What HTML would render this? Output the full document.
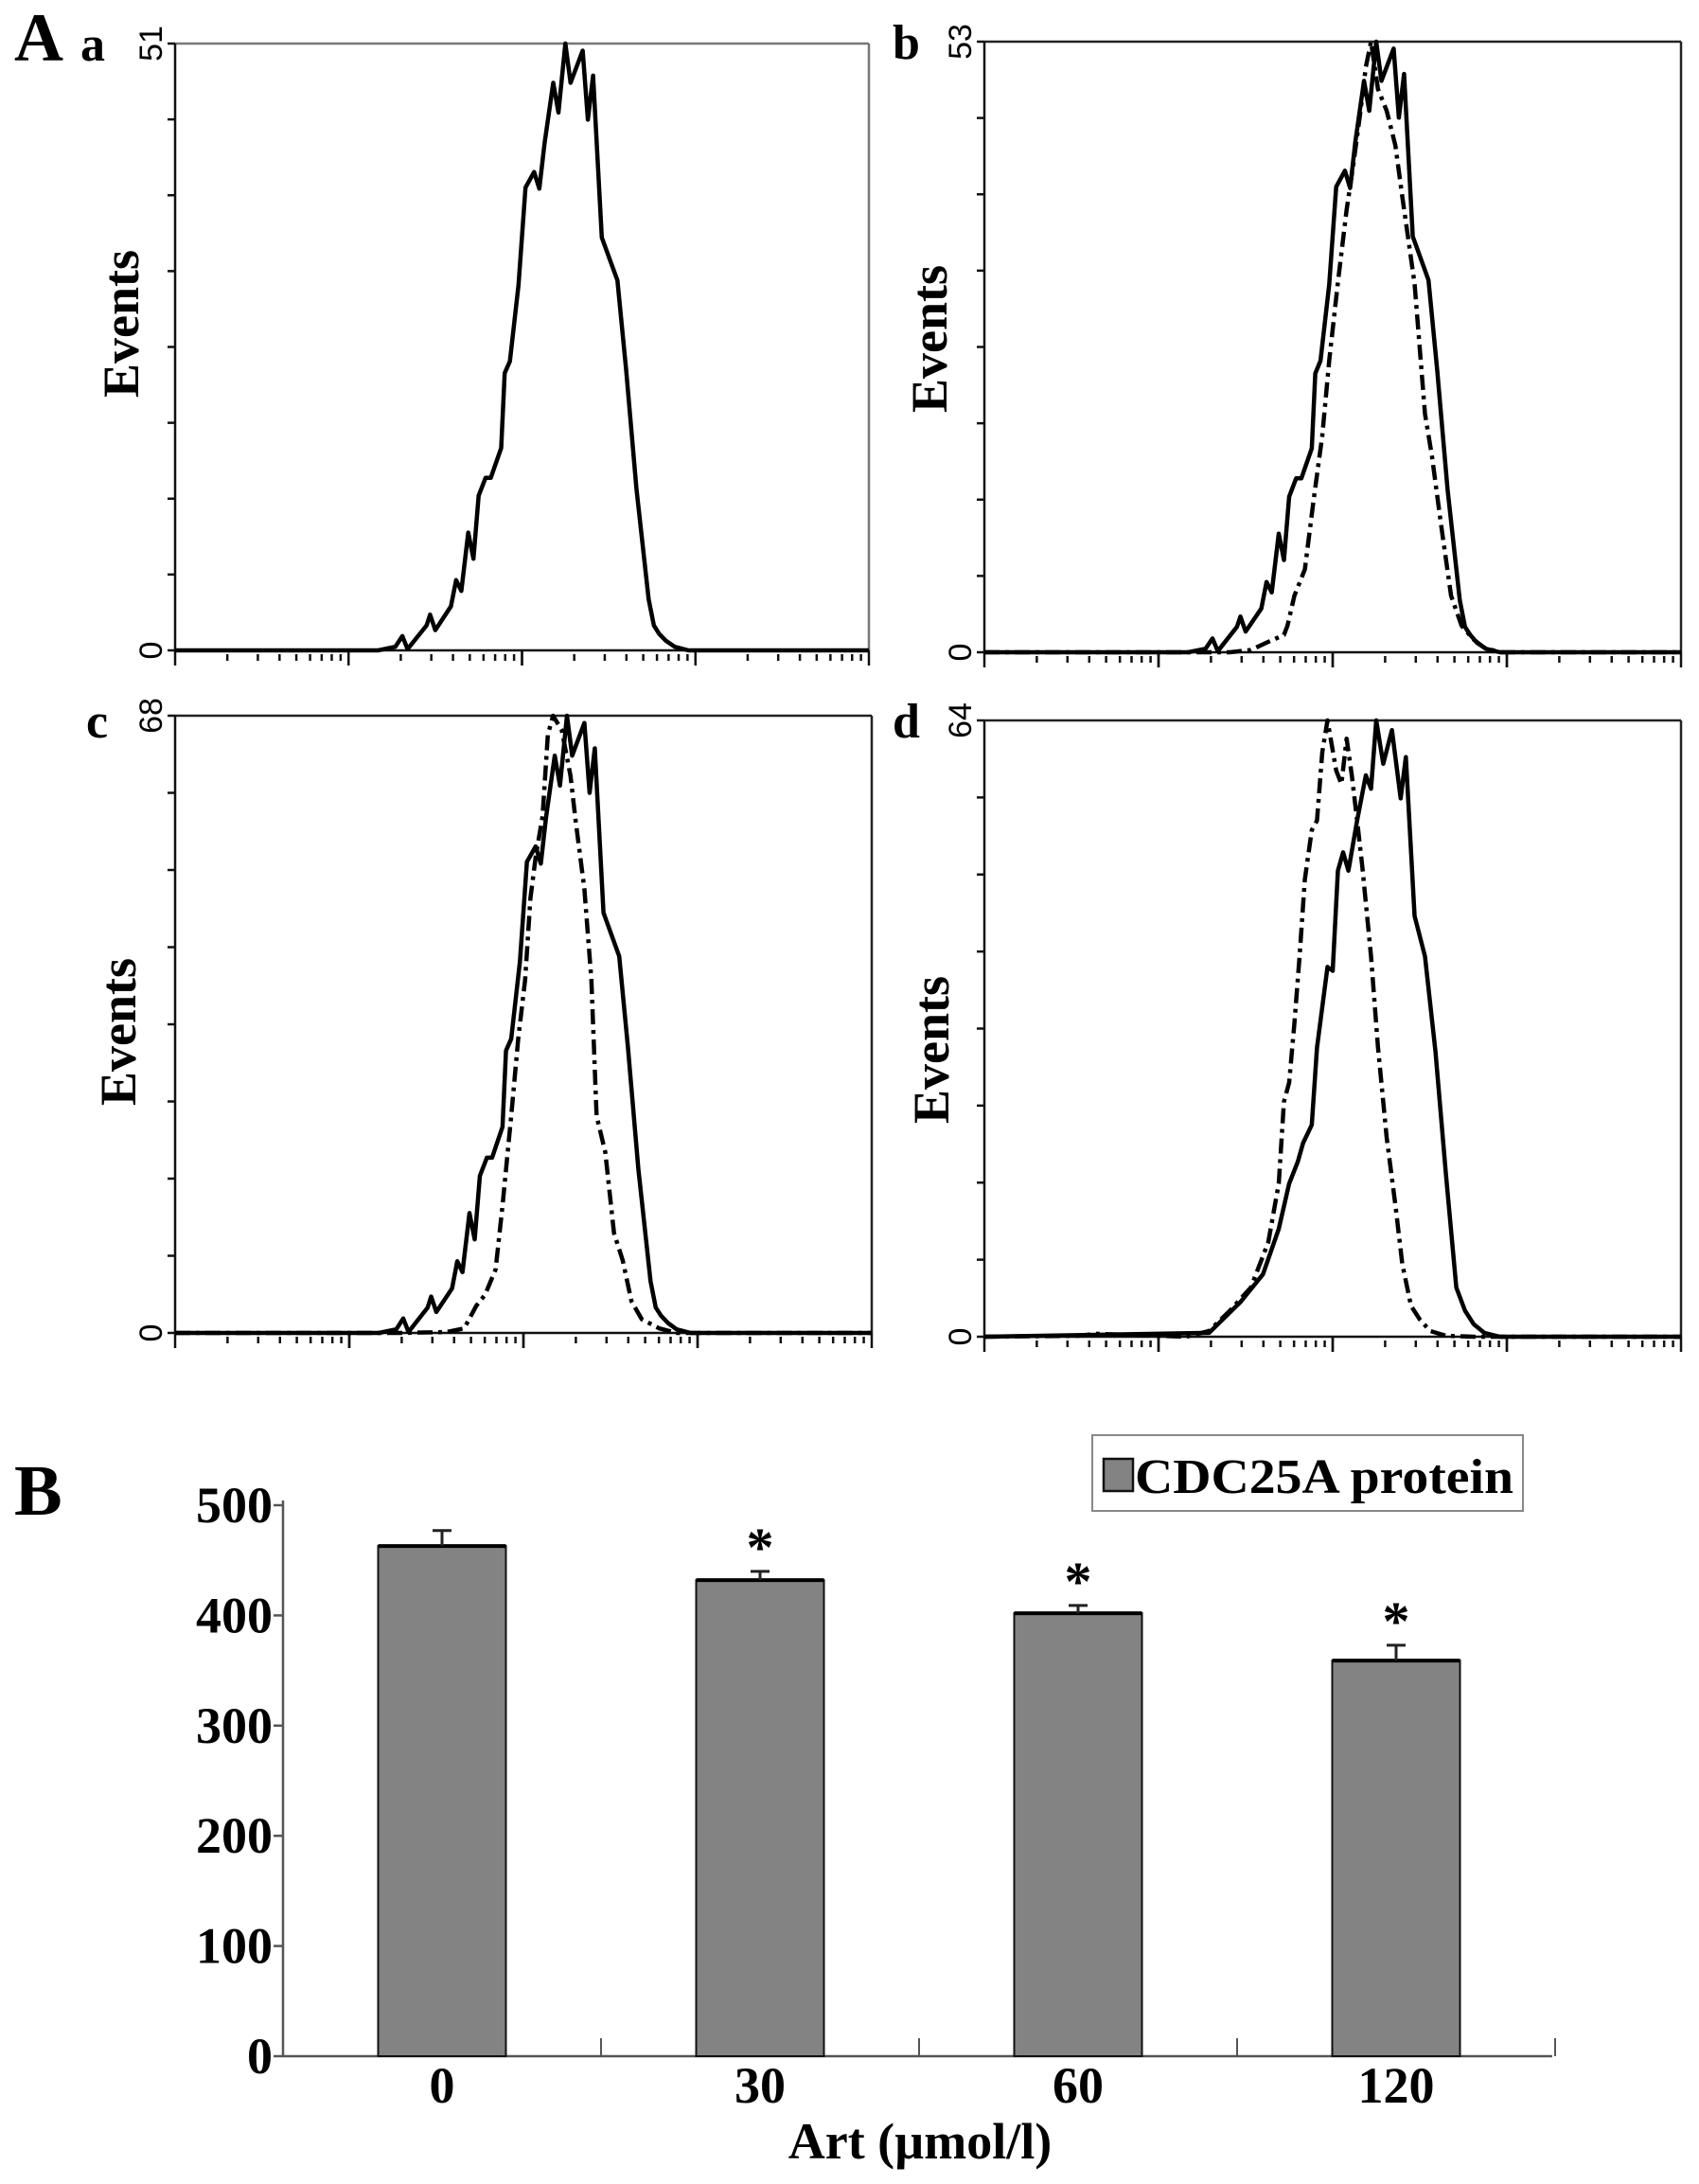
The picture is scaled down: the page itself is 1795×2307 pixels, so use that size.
<!DOCTYPE html>
<html><head><meta charset="utf-8">
<style>
html,body{margin:0;padding:0;background:#fff;}
svg{display:block;}
text{font-family:"Liberation Serif",serif;}
</style></head>
<body>
<svg id="fig" width="1795" height="2307" viewBox="0 0 1795 2307" xmlns="http://www.w3.org/2000/svg">
<rect width="1795" height="2307" fill="#fff"/>
<g id="panels"></g>
<g id="bars"></g>
</svg>
<script>
// ---- Histogram data (x in log decades 0-4, y in events) ----
const aSolidX=[0,1.17,1.27,1.31,1.34,1.45,1.47,1.50,1.59,1.62,1.65,1.69,1.72,1.75,1.79,1.82,1.88,1.90,1.93,1.98,2.02,2.07,2.10,2.13,2.18,2.21,2.25,2.28,2.35,2.38,2.41,2.46,2.55,2.60,2.66,2.73,2.76,2.79,2.83,2.88,2.96,4];
const aSolidY=[0,0,0.3,1.2,0.1,2.1,3.0,1.7,3.7,5.9,5.0,9.9,7.7,13.0,14.5,14.5,17.0,23.3,24.3,30.7,38.9,40.2,38.8,42.6,47.7,45.2,51,47.7,50.4,44.6,48.3,34.7,31.1,23.6,13.6,4.3,2.1,1.4,0.8,0.3,0,0];
const bSolidY=[0,0,0.3,1.2,0.1,2.2,3.1,1.8,3.8,6.1,5.2,10.3,8.0,13.5,15.1,15.1,17.7,24.2,25.3,31.9,40.4,41.8,40.3,44.3,49.6,47.0,53,49.6,52.4,46.4,50.2,36.1,32.3,24.5,14.1,4.5,2.2,1.5,0.8,0.3,0,0];
const bDashX=[0,1.41,1.53,1.63,1.72,1.74,1.78,1.84,1.89,1.94,1.98,2.03,2.08,2.12,2.16,2.19,2.22,2.26,2.31,2.36,2.40,2.47,2.53,2.57,2.62,2.68,2.74,2.81,2.87,2.96,4];
const bDashY=[0,0,0.2,0.9,1.5,2.3,4.9,7.2,13.2,18.8,25.3,32.1,38.4,42.5,47.0,50.8,53,48.9,47.0,44.0,39.5,32.0,20.7,17.0,11.3,4.9,2.3,1.1,0.4,0,0];
const cSolidY=[0,0,0.4,1.6,0.1,2.8,4.0,2.3,4.9,7.9,6.7,13.2,10.3,17.3,19.3,19.3,22.7,31.1,32.4,40.9,51.9,53.6,51.7,56.8,63.6,60.3,68,63.6,67.2,59.5,64.4,46.3,41.5,31.5,18.1,5.7,2.8,1.9,1.1,0.4,0,0];
const cDashX=[0,1.30,1.56,1.66,1.73,1.78,1.84,1.88,1.93,1.97,2.01,2.04,2.07,2.11,2.14,2.17,2.22,2.27,2.30,2.35,2.39,2.42,2.47,2.52,2.57,2.62,2.68,2.78,2.88,4];
const cDashY=[0,0,0.1,0.5,3.0,4.2,7.0,14.0,23.9,32.4,38.9,47.9,52.4,56.9,65.9,68,66.4,61.4,56.4,48.9,38.9,23.9,19.9,11.0,8.0,3.5,1.5,0.5,0,0];
const dSolidX=[0,1.29,1.47,1.60,1.69,1.75,1.80,1.83,1.88,1.91,1.97,2.00,2.03,2.06,2.09,2.14,2.19,2.22,2.25,2.29,2.34,2.39,2.42,2.47,2.53,2.59,2.65,2.71,2.76,2.81,2.87,2.96,4];
const dSolidY=[0,0.4,3.6,6.5,11.2,15.9,18.2,20.1,22.0,30.0,38.4,38.0,48.4,50.3,48.4,53.6,58.3,56.9,64,59.5,63.0,55.9,60.2,43.7,39.5,29.6,16.9,5.1,2.7,1.3,0.4,0,0];
const dDashX=[0,0.54,0.64,1.16,1.29,1.41,1.53,1.63,1.69,1.72,1.75,1.78,1.81,1.84,1.88,1.91,1.94,1.97,2.02,2.05,2.08,2.11,2.14,2.17,2.22,2.26,2.31,2.36,2.40,2.45,2.50,2.56,2.65,2.81,4];
const dDashY=[0,0.1,0.3,0,0.6,2.7,5.1,9.8,15.9,24.4,26.4,32.5,39.5,47.5,52.6,53.6,60.7,64,58.8,57.4,62.1,58.3,53.6,48.8,39.5,30.1,20.7,13.7,7.5,3.2,1.8,0.6,0.1,0,0];
const yMaxLabels=["51","53","68","64"];
const yMaxValues=[51,53,68,64];
const panelLetters=["a","b","c","d"];

// ---- Bar chart data ----
const categories=["0","30","60","120"];
const barValues=[463,432,402,359];
const errValues=[477,440,409,373];
const sigFlags=[false,true,true,true];
const yTicks=[0,100,200,300,400,500];

const NS="http://www.w3.org/2000/svg";
function mk(tag,attrs,parent){const e=document.createElementNS(NS,tag);for(const k in attrs)e.setAttribute(k,attrs[k]);parent.appendChild(e);return e;}

const panelsG=document.getElementById('panels');
const geoms=[{x0:185,x1:918,y0:46,y1:687,ev:[127,342],lt:[85,64],gray:true},
{x0:1040,x1:1776,y0:44,y1:689,ev:[981,358],lt:[943,62]},
{x0:185,x1:921,y0:756,y1:1408,ev:[124,1090],lt:[91,779]},
{x0:1040,x1:1776,y0:761,y1:1412,ev:[983,1109],lt:[943,779]}];
const series=[[[aSolidX,aSolidY,false]],[[aSolidX,bSolidY,false],[bDashX,bDashY,true]],[[aSolidX,cSolidY,false],[cDashX,cDashY,true]],[[dSolidX,dSolidY,false],[dDashX,dDashY,true]]];

const A=mk('text',{x:15,y:64,'font-size':72,'font-weight':'bold'},panelsG);A.textContent='A';



geoms.forEach((g,i)=>{
  const pg=mk('g',{},panelsG);
  
  
  const xs=v=>g.x0+(g.x1-g.x0)*v/4;
  const ys=v=>g.y1-(g.y1-g.y0)*v/yMaxValues[i];
  mk('line',{x1:g.x0,y1:g.y0,x2:g.x1,y2:g.y0,stroke:g.gray?'#777':'#222','stroke-width':2.5},pg);
  mk('line',{x1:g.x1,y1:g.y0,x2:g.x1,y2:g.y1,stroke:g.gray?'#777':'#222','stroke-width':2.5},pg);
  mk('line',{x1:g.x0,y1:g.y0,x2:g.x0,y2:g.y1,stroke:'#111','stroke-width':2.5},pg);
  mk('line',{x1:g.x0,y1:g.y1,x2:g.x1,y2:g.y1,stroke:'#111','stroke-width':2.5},pg);
  for(let k=0;k<=8;k++){const y=g.y1-(g.y1-g.y0)*k/8;mk('line',{x1:g.x0-8,y1:y,x2:g.x0,y2:y,stroke:'#111','stroke-width':2.5},pg);}
  for(let d=0;d<4;d++){for(let m=1;m<=10;m++){const xv=d+Math.log10(m);const x=xs(xv);const major=(m===1||m===10);
    mk('line',{x1:x,y1:g.y1+(major?0:4),x2:x,y2:g.y1+(major?16:11),stroke:'#111','stroke-width':2.5},pg);}}
  const t1=mk('text',{x:0,y:0,style:'font-family:"Liberation Sans",sans-serif;font-size:34px','text-anchor':'middle',transform:`translate(${g.x0-14},${g.y0}) rotate(-90)`},pg);
  t1.textContent=yMaxLabels[i];
  
  
  const t0=mk('text',{x:0,y:0,style:'font-family:"Liberation Sans",sans-serif;font-size:34px','text-anchor':'middle',transform:`translate(${g.x0-14},${g.y1}) rotate(-90)`},pg);
  t0.textContent='0';
  
  
  const ev=mk('text',{x:0,y:0,'font-size':54,'font-weight':'bold','text-anchor':'middle',transform:`translate(${g.ev[0]+19},${g.ev[1]}) rotate(-90)`},pg);
  ev.textContent='Events';
  
  
  const lt=mk('text',{x:g.lt[0],y:g.lt[1],'font-size':52,'font-weight':'bold'},pg);
  lt.textContent=panelLetters[i];
  
  
  series[i].forEach(s=>{
    const [X,Y,dash]=s;let d='';
    X.forEach((v,j)=>{d+=(j?'L':'M')+xs(v).toFixed(1)+','+ys(Y[j]).toFixed(1);});
    const p=mk('path',{d:d,fill:'none',stroke:'#000','stroke-width':4.5,'stroke-linejoin':'round'},pg);
    if(dash)p.setAttribute('stroke-dasharray','16 6 4 6');
    
    
  });
});

// ---- Bar chart ----
const bg=document.getElementById('bars');
const ax0=299,axEnd=1640,yZero=2172,yTop=1590,catW=336,barW=135;
const by=v=>yZero-(yZero-yTop)*v/500;
const bx=i=>ax0+catW*i+catW/2;
const B=mk('text',{x:15,y:1600,'font-size':76,'font-weight':'bold'},bg);B.textContent='B';


mk('line',{x1:ax0,y1:yTop-5,x2:ax0,y2:yZero,stroke:'#555','stroke-width':2.5},bg);
mk('line',{x1:ax0,y1:yZero,x2:axEnd,y2:yZero,stroke:'#555','stroke-width':2.5},bg);
yTicks.forEach(v=>{
  mk('line',{x1:ax0-10,y1:by(v),x2:ax0,y2:by(v),stroke:'#555','stroke-width':2.5},bg);
  const t=mk('text',{x:288,y:by(v)+18,'font-size':54,'font-weight':'bold','text-anchor':'end'},bg);
  t.textContent=v;
  
  
});
for(let k=1;k<=4;k++){const x=ax0+catW*k;mk('line',{x1:x,y1:yZero-19,x2:x,y2:yZero,stroke:'#555','stroke-width':2},bg);}
categories.forEach((c,i)=>{
  const cx=bx(i);
  const r=mk('rect',{x:cx-barW/2,y:by(barValues[i]),width:barW,height:yZero-by(barValues[i]),fill:'#838383',stroke:'#111','stroke-width':2},bg);
  
  
  mk('line',{x1:cx-barW/2,y1:by(barValues[i]),x2:cx+barW/2,y2:by(barValues[i]),stroke:'#000','stroke-width':4},bg);
  const e=mk('line',{x1:cx,y1:by(barValues[i]),x2:cx,y2:by(errValues[i]),stroke:'#222','stroke-width':3},bg);
  
  
  mk('line',{x1:cx-10,y1:by(errValues[i]),x2:cx+10,y2:by(errValues[i]),stroke:'#222','stroke-width':3},bg);
  if(sigFlags[i]){const s=mk('text',{x:cx,y:by(errValues[i])-6,'font-size':58,'font-weight':'bold','text-anchor':'middle'},bg);s.textContent='*';
    
    }
  const t=mk('text',{x:cx,y:2221,'font-size':54,'font-weight':'bold','text-anchor':'middle'},bg);t.textContent=c;
  
  
});
const xt=mk('text',{x:972,y:2280,'font-size':54,'font-weight':'bold','text-anchor':'middle'},bg);xt.textContent='Art (µmol/l)';


const lg=mk('g',{},bg);


mk('rect',{x:1154,y:1516,width:455,height:80,fill:'#fff',stroke:'#888','stroke-width':2},lg);
mk('rect',{x:1166,y:1541,width:31,height:34,fill:'#838383',stroke:'#111','stroke-width':2.5},lg);
const lt2=mk('text',{x:1199,y:1577,'font-size':52,'font-weight':'bold',textLength:400,lengthAdjust:'spacingAndGlyphs'},lg);lt2.textContent='CDC25A protein';


</script>
</body></html>
